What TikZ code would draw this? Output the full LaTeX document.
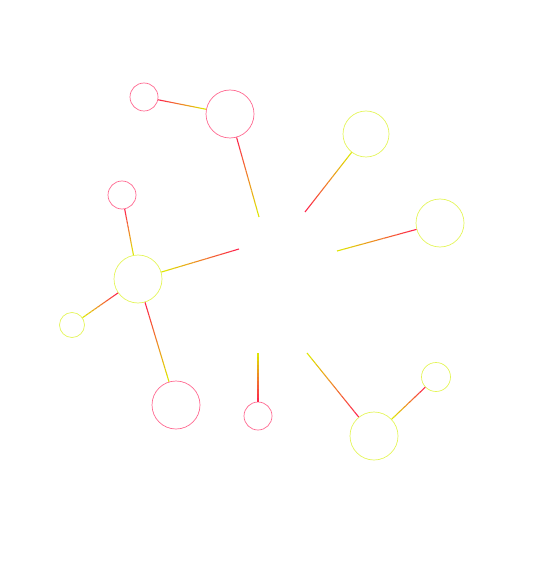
\documentclass[tikz,border=0pt]{standalone}
\usepackage{tikz}
\usetikzlibrary{calc}
\definecolor{NodePink}{RGB}{255,105,145}
\definecolor{NodeLime}{RGB}{228,245,90}
\definecolor{LinkRed}{RGB}{255,30,80}
\definecolor{LinkYellow}{RGB}{222,236,0}

\begin{document}
\begin{tikzpicture}[x=1pt,y=-1pt,
  dot/.style={draw,circle,inner sep=0pt,line width=0.7pt},
  pinkdot/.style={dot,draw=NodePink},
  limedot/.style={dot,draw=NodeLime},
  link/.style={line width=1.1pt}]
  \useasboundingbox (0,0) rectangle (547,561);
  \node[pinkdot,minimum size=28pt] (p1) at (144,97) {};
  \node[pinkdot,minimum size=48pt] (p2) at (230,114) {};
  \node[pinkdot,minimum size=28pt] (p3) at (122,195) {};
  \node[pinkdot,minimum size=48pt] (p4) at (176,405) {};
  \node[pinkdot,minimum size=28pt] (p5) at (258,416) {};
  \node[limedot,minimum size=48pt] (y1) at (138,279) {};
  \node[limedot,minimum size=25pt] (y2) at (72,325) {};
  \node[limedot,minimum size=48pt] (y3) at (374,436) {};
  \node[limedot,minimum size=29pt] (y4) at (436,377) {};
  \node[limedot,minimum size=46pt] (y5) at (366,134) {};
  \node[limedot,minimum size=48pt] (y6) at (440,223) {};
  \coordinate (ha) at (259,217);
  \coordinate (hb) at (305,212);
  \coordinate (hc) at (337,251);
  \coordinate (hd) at (239,249);
  \coordinate (he) at (258,353);
  \coordinate (hf) at (307,353);
  \foreach \a/\b in {p1/p2,p2/ha,p3/y1,hd/y1,y1/y2,y1/p4,p5/he,y3/hf,y4/y3,hb/y5,y6/hc}{
    \path (\a) -- (\b) coordinate[pos=0] (s) coordinate[pos=1] (e);
    \foreach \k in {0,...,11}{
      \pgfmathsetmacro{\ta}{\k/12}
      \pgfmathsetmacro{\tb}{(\k+1)/12}
      \pgfmathtruncatemacro{\pc}{100-100*(\k+0.5)/12}
      \draw[link,draw=LinkRed!\pc!LinkYellow] ($(s)!\ta!(e)$) -- ($(s)!\tb!(e)$);
    }
  }
\end{tikzpicture}
\end{document}
